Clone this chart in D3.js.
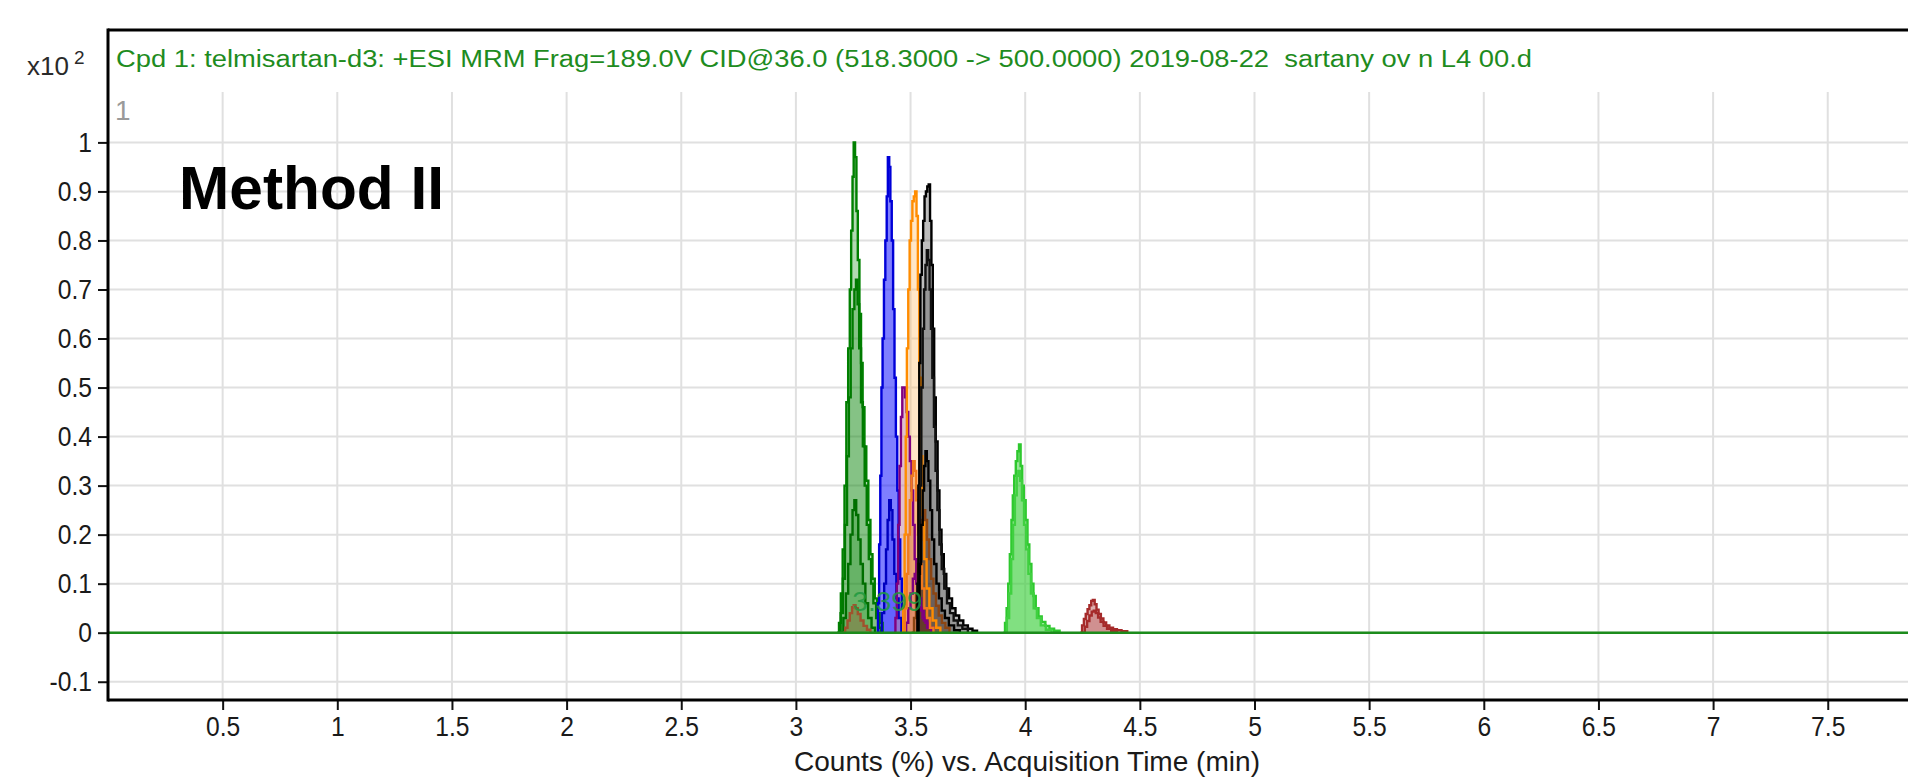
<!DOCTYPE html>
<html>
<head>
<meta charset="utf-8">
<script src="https://cdn.jsdelivr.net/npm/d3@7"></script>
<style>
  html, body { margin: 0; padding: 0; background: #fff; }
  svg { display: block; }
  text { font-family: "Liberation Sans", Arial, sans-serif; white-space: pre; }
</style>
</head>
<body>
<svg id="chart" width="1908" height="782"></svg>
<script>
// chromatogram traces, [time (min), counts x10^2]
const greenA = [[3.180,0],[3.188,0.02],[3.196,0.08],[3.204,0.17],[3.212,0.30],[3.220,0.47],[3.228,0.58],[3.235,0.70],[3.241,0.82],[3.247,0.93],[3.252,1.0],[3.258,0.97],[3.264,0.86],[3.270,0.76],[3.277,0.65],[3.284,0.55],[3.291,0.46],[3.299,0.38],[3.307,0.31],[3.316,0.23],[3.325,0.16],[3.334,0.11],[3.344,0.07],[3.354,0.04],[3.365,0.02],[3.378,0]];
const greenB = [[3.185,0],[3.195,0.04],[3.205,0.11],[3.214,0.22],[3.223,0.36],[3.231,0.48],[3.239,0.58],[3.247,0.66],[3.255,0.70],[3.262,0.72],[3.269,0.67],[3.276,0.58],[3.284,0.47],[3.292,0.38],[3.300,0.30],[3.309,0.22],[3.318,0.15],[3.328,0.10],[3.338,0.06],[3.350,0.03],[3.362,0.01],[3.372,0]];
const greenC = [[3.195,0],[3.207,0.03],[3.218,0.08],[3.228,0.14],[3.238,0.20],[3.247,0.25],[3.255,0.27],[3.263,0.24],[3.272,0.19],[3.282,0.14],[3.292,0.10],[3.303,0.06],[3.315,0.03],[3.330,0.01],[3.345,0]];
const brownA = [[3.205,0],[3.215,0.01],[3.225,0.025],[3.235,0.04],[3.245,0.052],[3.252,0.056],[3.260,0.05],[3.270,0.038],[3.282,0.025],[3.295,0.014],[3.310,0.006],[3.325,0]];
const blueA = [[3.352,0],[3.358,0.06],[3.363,0.18],[3.368,0.32],[3.373,0.50],[3.378,0.60],[3.384,0.72],[3.390,0.80],[3.396,0.89],[3.401,0.97],[3.407,0.95],[3.412,0.88],[3.418,0.80],[3.424,0.66],[3.430,0.52],[3.436,0.40],[3.442,0.29],[3.448,0.19],[3.455,0.11],[3.462,0.05],[3.470,0.02],[3.480,0]];
const blueB = [[3.365,0],[3.375,0.04],[3.385,0.10],[3.393,0.17],[3.400,0.23],[3.407,0.27],[3.414,0.25],[3.421,0.19],[3.429,0.12],[3.438,0.07],[3.448,0.03],[3.460,0]];
const purpleA = [[3.428,0],[3.434,0.03],[3.440,0.10],[3.446,0.22],[3.452,0.34],[3.458,0.44],[3.464,0.50],[3.470,0.50],[3.476,0.48],[3.483,0.45],[3.490,0.40],[3.497,0.35],[3.504,0.29],[3.511,0.22],[3.518,0.15],[3.525,0.10],[3.533,0.07],[3.542,0.05],[3.552,0.03],[3.565,0.02],[3.580,0.01],[3.600,0]];
const purpleB = [[3.470,0],[3.480,0.02],[3.490,0.05],[3.500,0.08],[3.510,0.11],[3.518,0.12],[3.526,0.10],[3.535,0.07],[3.546,0.045],[3.558,0.025],[3.572,0.01],[3.590,0]];
const orangeA = [[3.462,0],[3.468,0.05],[3.474,0.20],[3.479,0.40],[3.484,0.58],[3.490,0.70],[3.496,0.80],[3.502,0.84],[3.508,0.88],[3.514,0.89],[3.520,0.90],[3.526,0.85],[3.532,0.70],[3.538,0.52],[3.545,0.36],[3.552,0.24],[3.560,0.15],[3.570,0.09],[3.582,0.05],[3.596,0.025],[3.612,0.01],[3.630,0]];
const orangeB = [[3.465,0],[3.475,0.05],[3.483,0.12],[3.490,0.20],[3.497,0.27],[3.504,0.32],[3.511,0.35],[3.518,0.33],[3.525,0.27],[3.533,0.20],[3.541,0.14],[3.550,0.09],[3.560,0.05],[3.572,0.03],[3.585,0.01],[3.600,0]];
const brownB = [[3.505,0],[3.515,0.03],[3.524,0.08],[3.532,0.14],[3.540,0.19],[3.548,0.23],[3.556,0.25],[3.564,0.23],[3.572,0.19],[3.581,0.15],[3.590,0.11],[3.600,0.08],[3.611,0.055],[3.623,0.035],[3.637,0.02],[3.652,0.01],[3.670,0]];
const blackA = [[3.525,0],[3.530,0.10],[3.534,0.30],[3.538,0.55],[3.543,0.73],[3.549,0.80],[3.555,0.84],[3.561,0.89],[3.567,0.90],[3.573,0.91],[3.579,0.914],[3.585,0.84],[3.591,0.75],[3.597,0.62],[3.603,0.48],[3.610,0.39],[3.618,0.29],[3.626,0.21],[3.635,0.16],[3.645,0.12],[3.656,0.09],[3.668,0.07],[3.681,0.05],[3.696,0.035],[3.712,0.025],[3.730,0.015],[3.750,0.008],[3.770,0.004],[3.790,0]];
const blackB = [[3.530,0],[3.536,0.12],[3.541,0.30],[3.547,0.50],[3.553,0.62],[3.559,0.70],[3.565,0.75],[3.571,0.78],[3.577,0.76],[3.583,0.70],[3.589,0.62],[3.595,0.52],[3.602,0.42],[3.609,0.33],[3.617,0.25],[3.626,0.18],[3.636,0.13],[3.647,0.09],[3.659,0.06],[3.672,0.04],[3.688,0.025],[3.706,0.015],[3.726,0.008],[3.750,0]];
const blackC = [[3.525,0],[3.532,0.06],[3.539,0.14],[3.546,0.22],[3.553,0.29],[3.559,0.34],[3.565,0.37],[3.571,0.35],[3.578,0.31],[3.586,0.25],[3.594,0.19],[3.603,0.14],[3.613,0.10],[3.624,0.07],[3.636,0.045],[3.650,0.03],[3.667,0.015],[3.690,0.005],[3.715,0]];
const limeA = [[3.905,0],[3.912,0.02],[3.919,0.05],[3.926,0.10],[3.933,0.16],[3.940,0.23],[3.946,0.28],[3.952,0.32],[3.959,0.35],[3.966,0.37],[3.973,0.384],[3.980,0.34],[3.987,0.30],[3.994,0.27],[4.002,0.23],[4.010,0.18],[4.018,0.14],[4.027,0.10],[4.036,0.075],[4.046,0.05],[4.058,0.033],[4.072,0.022],[4.088,0.014],[4.106,0.008],[4.126,0.004],[4.150,0]];
const limeB = [[3.910,0],[3.920,0.03],[3.930,0.08],[3.939,0.15],[3.947,0.22],[3.955,0.28],[3.963,0.32],[3.970,0.33],[3.978,0.31],[3.986,0.27],[3.995,0.22],[4.004,0.17],[4.014,0.12],[4.025,0.08],[4.037,0.05],[4.051,0.03],[4.068,0.015],[4.090,0.006],[4.115,0]];
const redA = [[4.240,0],[4.248,0.015],[4.256,0.028],[4.264,0.038],[4.272,0.048],[4.280,0.056],[4.288,0.065],[4.295,0.067],[4.303,0.058],[4.311,0.047],[4.320,0.038],[4.330,0.029],[4.341,0.021],[4.353,0.015],[4.367,0.010],[4.383,0.007],[4.400,0.005],[4.420,0.003],[4.445,0]];
const redB = [[4.250,0],[4.260,0.012],[4.270,0.024],[4.280,0.035],[4.290,0.043],[4.299,0.045],[4.308,0.040],[4.318,0.031],[4.329,0.022],[4.342,0.014],[4.357,0.008],[4.375,0.004],[4.400,0]];
const baseline = [[0,0],[8,0]];

const xTicks = [0.5, 1, 1.5, 2, 2.5, 3, 3.5, 4, 4.5, 5, 5.5, 6, 6.5, 7, 7.5];
const yTicks = [-0.1, 0, 0.1, 0.2, 0.3, 0.4, 0.5, 0.6, 0.7, 0.8, 0.9, 1];
const rtLabel = { time: 3.399, value: 0.045, text: '3.399' };

const titleText = 'Cpd 1: telmisartan-d3: +ESI MRM Frag=189.0V CID@36.0 (518.3000 -> 500.0000) 2019-08-22  sartany ov n L4 00.d';
const xLabel = 'Counts (%) vs. Acquisition Time (min)';

// draw order and colours
const traces = [
  { data: greenA, stroke: '#008000', fill: '#008000', op: 0.3 },
  { data: greenB, stroke: '#007a00', fill: '#008000', op: 0.25 },
  { data: greenC, stroke: '#006e00', fill: '#008000', op: 0.22 },
  { data: brownA, stroke: '#a0522d', fill: '#a0522d', op: 0.35 },
  { data: blueA, stroke: '#0000d8', fill: '#0000ff', op: 0.5 },
  { data: blueB, stroke: '#0000c0', fill: '#0000ff', op: 0.22 },
  { data: purpleA, stroke: '#800080', fill: '#c080a0', op: 0.5 },
  { data: purpleB, stroke: '#800080', fill: '#800080', op: 0.22 },
  { data: orangeA, stroke: '#ff8c00', fill: '#ffb050', op: 0.32 },
  { data: orangeB, stroke: '#f07a1e', fill: '#f07a1e', op: 0.38 },
  { data: brownB, stroke: '#8b4513', fill: '#a0522d', op: 0.32 },
  { data: blackA, stroke: '#000000', fill: '#000000', op: 0.26 },
  { data: blackB, stroke: '#101010', fill: '#000000', op: 0.2 },
  { data: blackC, stroke: '#000000', fill: '#000000', op: 0.18 },
  { data: limeA, stroke: '#2ec82e', fill: '#32cd32', op: 0.5 },
  { data: limeB, stroke: '#40d040', fill: '#32cd32', op: 0.22 },
  { data: redA, stroke: '#a52a2a', fill: '#a52a2a', op: 0.38 },
  { data: redB, stroke: '#a52a2a', fill: '#a52a2a', op: 0.22 },
];

const width = 1908;
const left = 108;
const frameTop = 30;
const gridTop = 92;
const axisY = 700;

const svg = d3.select('#chart');

const x = d3.scaleLinear().domain([0, 8]).range([left, left + 8 * 229.3]);
const y = d3.scaleLinear().domain([0, 1]).range([632.7, 142.4]);

// grid
const grid = svg.append('g').attr('stroke', '#e0e0e0').attr('stroke-width', 2);
grid.selectAll('line.v')
  .data(xTicks)
  .enter()
  .append('line')
  .attr('x1', (d) => x(d))
  .attr('x2', (d) => x(d))
  .attr('y1', gridTop)
  .attr('y2', axisY);
grid.selectAll('line.h')
  .data(yTicks)
  .enter()
  .append('line')
  .attr('x1', left)
  .attr('x2', width)
  .attr('y1', (d) => y(d))
  .attr('y2', (d) => y(d));

// traces
const area = d3.area()
  .curve(d3.curveStepAfter)
  .x((d) => x(d[0]))
  .y0(y(0))
  .y1((d) => y(d[1]));
const line = d3.line()
  .curve(d3.curveStepAfter)
  .x((d) => x(d[0]))
  .y((d) => y(d[1]));

const plot = svg.append('g');
traces.forEach((t) => {
  plot.append('path')
    .attr('d', area(t.data))
    .attr('fill', t.fill)
    .attr('fill-opacity', t.op)
    .attr('stroke', 'none');
});
traces.forEach((t) => {
  plot.append('path')
    .attr('d', line(t.data))
    .attr('fill', 'none')
    .attr('stroke', t.stroke)
    .attr('stroke-width', 2.4);
});

// baseline
plot.append('path')
  .attr('d', line.curve(d3.curveLinear)(baseline))
  .attr('fill', 'none')
  .attr('stroke', '#1c8c1c')
  .attr('stroke-width', 2.5);

// retention time label
plot.append('text')
  .attr('x', x(rtLabel.time))
  .attr('y', y(rtLabel.value))
  .attr('text-anchor', 'middle')
  .attr('font-size', 28)
  .attr('fill', '#1f9a3f')
  .attr('fill-opacity', 0.85)
  .text(rtLabel.text);

// axes
function condense(sel, k) {
  sel.each(function () {
    const w = this.getComputedTextLength();
    this.setAttribute('textLength', w * k);
    this.setAttribute('lengthAdjust', 'spacingAndGlyphs');
  });
}

const fmt = (d) => String(d);

const xAxis = svg.append('g')
  .attr('transform', `translate(0,${axisY})`)
  .call(d3.axisBottom(x).tickValues(xTicks).tickFormat(fmt).tickSize(10).tickSizeOuter(0).tickPadding(6));
xAxis.select('.domain').remove();
xAxis.selectAll('line').attr('stroke', '#111').attr('stroke-width', 2);
xAxis.selectAll('text').attr('font-size', 28).attr('fill', '#1a1a1a').attr('font-family', '"Liberation Sans", Arial, sans-serif');
condense(xAxis.selectAll('text'), 0.88);

const yAxis = svg.append('g')
  .attr('transform', `translate(${left},0)`)
  .call(d3.axisLeft(y).tickValues(yTicks).tickFormat(fmt).tickSize(10).tickSizeOuter(0).tickPadding(6));
yAxis.select('.domain').remove();
yAxis.selectAll('line').attr('stroke', '#111').attr('stroke-width', 2);
yAxis.selectAll('text').attr('font-size', 28).attr('fill', '#1a1a1a').attr('font-family', '"Liberation Sans", Arial, sans-serif');
condense(yAxis.selectAll('text'), 0.88);

// frame
const frame = svg.append('g').attr('stroke', '#000').attr('stroke-width', 3);
frame.append('line').attr('x1', left).attr('x2', width).attr('y1', frameTop).attr('y2', frameTop);
frame.append('line').attr('x1', left).attr('x2', left).attr('y1', frameTop - 1.5).attr('y2', axisY + 1.5);
frame.append('line').attr('x1', left).attr('x2', width).attr('y1', axisY).attr('y2', axisY);

// texts
svg.append('text')
  .attr('x', 116)
  .attr('y', 67)
  .attr('font-size', 23)
  .attr('fill', '#1e8c1e')
  .attr('textLength', 1416)
  .attr('lengthAdjust', 'spacingAndGlyphs')
  .text(titleText);

const mult = svg.append('text')
  .attr('x', 27)
  .attr('y', 75)
  .attr('font-size', 26)
  .attr('fill', '#2a2a2a');
mult.append('tspan').text('x10');
mult.append('tspan').attr('dx', 5).attr('dy', -11).attr('font-size', 19).text('2');

svg.append('text')
  .attr('x', 115)
  .attr('y', 120)
  .attr('font-size', 28)
  .attr('fill', '#9a9a9a')
  .text('1');

svg.append('text')
  .attr('x', 179)
  .attr('y', 209)
  .attr('font-size', 62)
  .attr('font-weight', 'bold')
  .attr('fill', '#000')
  .attr('textLength', 265)
  .attr('lengthAdjust', 'spacingAndGlyphs')
  .text('Method II');

svg.append('text')
  .attr('x', 1027)
  .attr('y', 771)
  .attr('text-anchor', 'middle')
  .attr('font-size', 28)
  .attr('fill', '#1a1a1a')
  .attr('textLength', 466)
  .attr('lengthAdjust', 'spacingAndGlyphs')
  .text(xLabel);
</script>
</body>
</html>
